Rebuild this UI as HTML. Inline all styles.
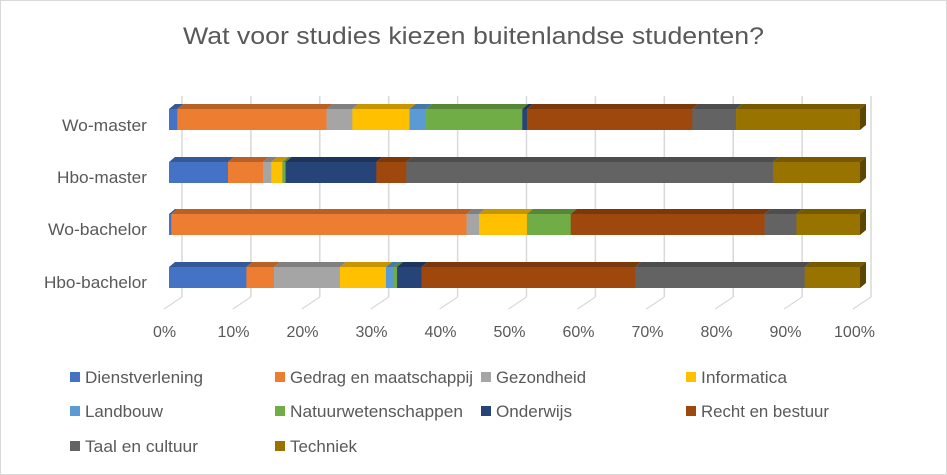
<!DOCTYPE html><html><head><style>
body{margin:0;background:#fff;}
#c{position:absolute;left:0;top:0;width:945px;height:473px;border:1px solid #d9d9d9;}
svg{position:absolute;left:0;top:0;font-family:"Liberation Sans",sans-serif;fill:#595959}
</style></head><body><div id="c"></div>
<svg id="s" width="947" height="475"></svg>
<script>
const C=["#4472c4","#ed7d31","#a5a5a5","#ffc000","#5b9bd5","#70ad47","#264478","#9e480e","#636363","#997300"];
const names=[["Dienstverlening",118],["Gedrag en maatschappij",183],["Gezondheid",90],["Informatica",86],["Landbouw",78],["Natuurwetenschappen",173],["Onderwijs",76],["Recht en bestuur",128],["Taal en cultuur",113],["Techniek",67]];
function dk(h,f){let n=parseInt(h.slice(1),16);let r=(n>>16)*f|0,g=((n>>8)&255)*f|0,b=(n&255)*f|0;return `rgb(${r},${g},${b})`;}
const bars=[
["Wo-master",109,85,131,[[0,20,38],[1,38,362],[2,362,418],[3,418,542],[4,542,578],[5,578,787],[6,787,797],[7,797,1156],[8,1156,1251],[9,1251,1520]]],
["Hbo-master",162,90,183,[[0,20,148],[1,148,224],[2,224,242],[3,242,266],[5,266,273],[6,273,470],[7,470,535],[8,535,1331],[9,1331,1520]]],
["Wo-bachelor",214,99,235,[[0,20,25],[1,25,666],[2,666,693],[3,693,797],[5,797,892],[7,892,1313],[8,1313,1382],[9,1382,1520]]],
["Hbo-bachelor",267,103,288,[[0,20,188],[1,188,248],[2,248,391],[3,391,491],[4,491,507],[5,507,515],[6,515,568],[7,568,1032],[8,1032,1400],[9,1400,1520]]]];
let s='';
const X=d=>169+(d-20)*691/1500, D=6, H=21;
for(let i=0;i<=10;i++){let x=170+i*68.9;s+=`<line x1="${x+12}" y1="96" x2="${x+12}" y2="297" stroke="#d9d9d9" stroke-width="1.5"/><line x1="${x+12}" y1="297" x2="${x-6}" y2="309" stroke="#d9d9d9" stroke-width="1.2"/>`;
s+=`<text x="${164.5+i*69}" y="337" font-size="16" text-anchor="middle">${i*10}%</text>`;}
for(const [lab,y,w,bl,segs] of bars){
 s+=`<text x="${147-w}" y="${bl}" font-size="16.5" textLength="${w}" lengthAdjust="spacingAndGlyphs">${lab}</text>`;
 for(const [c,a,b] of segs){const x1=X(a),x2=X(b);
  s+=`<polygon points="${x1},${y} ${x1+D},${y-5} ${x2+D},${y-5} ${x2},${y}" fill="${dk(C[c],0.78)}"/>`;
  s+=`<rect x="${x1}" y="${y}" width="${x2-x1+0.3}" height="${H}" fill="${C[c]}"/>`;}
 const e=X(1520),lc=segs[segs.length-1][0];
 s+=`<polygon points="${e},${y} ${e+D},${y-5} ${e+D},${y+H-5} ${e},${y+H}" fill="${dk(C[lc],0.6)}"/>`;
}
s+=`<text x="183" y="44" font-size="24" textLength="581" lengthAdjust="spacingAndGlyphs">Wat voor studies kiezen buitenlandse studenten?</text>`;
const lx=[70,275,481,686],ly=[377,411,446];
names.forEach(([n,w],i)=>{const x=lx[i%4],y=ly[(i/4)|0];s+=`<rect x="${x}" y="${y-5}" width="10" height="10" fill="${C[i]}"/><text x="${x+15}" y="${y+6}" font-size="16.5" textLength="${w}" lengthAdjust="spacingAndGlyphs">${n}</text>`;});
document.getElementById('s').innerHTML=s;
</script></body></html>
